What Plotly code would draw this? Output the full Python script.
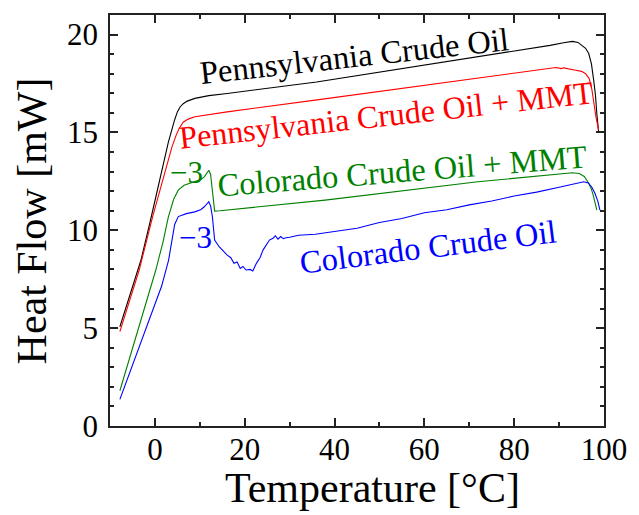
import plotly.graph_objects as go

# ---- data ----
penn_T = [-7.8, -5.5, -3.1, -1.0, 0.9, 3.0, 4.4, 5.0, 5.6, 6.3, 7.2, 8.9, 12.0, 16.1, 36.0, 55.0, 72.0, 88.0, 91.0, 93.0, 94.2, 95.1, 95.9, 96.6, 97.2, 97.7, 98.1, 98.4, 98.8]
penn_HF = [5.07, 6.72, 8.48, 10.5, 12.4, 14.5, 15.65, 16.05, 16.3, 16.47, 16.6, 16.74, 16.88, 16.99, 17.58, 18.25, 18.88, 19.45, 19.58, 19.65, 19.6, 19.46, 19.3, 19.03, 18.5, 17.67, 16.9, 15.97, 15.03]

pennm_T = [-7.8, -5.5, -3.5, -0.5, 2.3, 3.8, 4.8, 5.4, 6.3, 7.4, 8.9, 16.1, 35.7, 55.0, 71.9, 80.0, 86.0, 87.5, 89.3, 90.5, 91.0, 93.7, 95.0, 95.9, 96.7, 97.3, 97.7, 98.2, 98.8]
pennm_HF = [4.82, 6.45, 7.97, 10.7, 13.07, 14.26, 14.9, 15.2, 15.52, 15.68, 15.8, 16.05, 16.65, 17.25, 17.77, 18.05, 18.22, 18.25, 18.32, 18.26, 18.3, 18.18, 18.12, 18.0, 17.75, 17.2, 16.48, 15.8, 15.12]

colm_T = [-7.8, -4.5, -1.7, 0.2, 1.8, 3.0, 4.2, 5.2, 6.5, 8.9, 10.2, 11.0, 11.6, 12.0, 12.4, 12.8, 13.3, 14.5, 37.9, 71.9, 90.0, 93.0, 94.5, 95.6, 96.6, 97.2, 97.7, 98.4]
colm_HF = [1.8, 4.3, 6.44, 7.97, 9.4, 10.69, 11.6, 12.05, 12.3, 12.48, 12.6, 12.73, 12.95, 13.07, 12.85, 12.0, 10.98, 11.0, 11.54, 12.48, 12.88, 12.94, 12.9, 12.75, 12.4, 12.1, 11.71, 11.03]

col_T = [-7.8, -5.65, -3.5, -0.93, 1.5, 3.05, 3.77, 4.4, 5.2, 7.0, 8.86, 10.2, 11.0, 11.6, 12.0, 12.4, 12.8, 13.3, 14.3, 15.2, 16.1, 16.9,
         17.6, 18.3, 19.0, 19.6, 20.3, 21.2, 21.8, 22.6, 23.4, 24.1, 25.5, 26.3, 26.8, 27.4, 28.0,
         28.6, 29.2, 30.0, 32.0, 35.7, 40.0, 45.0, 50.0, 55.0, 60.0, 65.0, 70.0, 75.0, 80.0, 85.0,
         90.0, 93.0, 95.5, 96.5, 97.3, 98.0, 98.6, 99.1]
col_HF = [1.36, 2.69, 3.95, 5.58, 7.15, 8.48, 9.5, 10.3, 10.7, 10.85, 10.94, 11.05, 11.2, 11.35, 11.46, 11.25, 10.69, 9.5, 9.16, 8.95, 8.73, 8.6,
          8.31, 8.38, 8.05, 8.15, 7.97, 8.0, 7.92, 8.31, 8.6, 9.0, 9.5, 9.59, 9.72, 9.55, 9.68,
          9.57, 9.62, 9.64, 9.75, 9.8, 9.95, 10.1, 10.4, 10.6, 10.9, 11.05, 11.3, 11.5, 11.75, 11.95,
          12.2, 12.35, 12.48, 12.42, 12.2, 11.88, 11.5, 11.03]

series = [
    (penn_T, penn_HF, "black", "Pennsylvania Crude Oil"),
    (pennm_T, pennm_HF, "#ff0000", "Pennsylvania Crude Oil + MMT"),
    (colm_T, colm_HF, "#008000", "Colorado Crude Oil + MMT"),
    (col_T, col_HF, "#0000ff", "Colorado Crude Oil"),
]

labels = [
    ("Pennsylvania Crude Oil", 44.5, 18.9, -6.3, "black", 32.5),
    ("Pennsylvania Crude Oil + MMT", 51.5, 15.9, -6.3, "#ff0000", 32),
    ("Colorado Crude Oil + MMT", 55.2, 13.02, -4.5, "#008000", 32.5),
    ("Colorado Crude Oil", 60.8, 9.15, -7.0, "#0000ff", 32.5),
    ("\u22123", 7.0, 12.95, 0, "#008000", 31),
    ("\u22123", 9.0, 9.65, 0, "#0000ff", 31),
]

x_ticks = [0, 20, 40, 60, 80, 100]
y_ticks = [0, 5, 10, 15, 20]

FONT = "Liberation Serif, Times New Roman, serif"

fig = go.Figure()
for T, HF, c, name in series:
    fig.add_trace(go.Scatter(x=T, y=HF, mode="lines", name=name,
                             line=dict(color=c, width=1.1)))

for txt, x, y, ang, c, fs in labels:
    fig.add_annotation(text=txt, x=x, y=y, xref="x", yref="y", showarrow=False,
                       textangle=ang, font=dict(family=FONT, size=fs, color=c),
                       xanchor="center", yanchor="middle")

fig.add_annotation(text="Temperature [\u00b0C]", xref="paper", yref="paper", x=0.532, y=-0.152,
                   showarrow=False, font=dict(family=FONT, size=42, color="black"),
                   xanchor="center", yanchor="middle")
fig.add_annotation(text="Heat Flow [mW]", xref="paper", yref="paper", x=-0.158, y=0.5,
                   showarrow=False, textangle=-90, font=dict(family=FONT, size=42, color="black"),
                   xanchor="center", yanchor="middle")

axis_common = dict(showline=True, linecolor="#222", linewidth=1.5, mirror="ticks",
                   ticks="inside", tickcolor="#222", tickwidth=1.5, ticklen=8,
                   showgrid=False, zeroline=False, ticklabeloverflow="allow",
                   tickfont=dict(family=FONT, size=31, color="black"))

fig.update_xaxes(range=[-10, 100], tickvals=x_ticks, ticktext=[str(v) for v in x_ticks],
                 minor=dict(dtick=10, tick0=0, ticks="inside", ticklen=4, tickcolor="#222", tickwidth=1.5),
                 ticklabelstandoff=-5, **axis_common)
fig.update_yaxes(range=[0, 21], tickvals=y_ticks, ticktext=[str(v) for v in y_ticks],
                 minor=dict(dtick=1, tick0=0, ticks="inside", ticklen=4, tickcolor="#222", tickwidth=1.5),
                 ticklabelstandoff=4, **axis_common)

fig.update_layout(width=639, height=515, margin=dict(l=110, r=23, t=15, b=89),
                  paper_bgcolor="white", plot_bgcolor="white", showlegend=False)

fig.write_html("out.html")
